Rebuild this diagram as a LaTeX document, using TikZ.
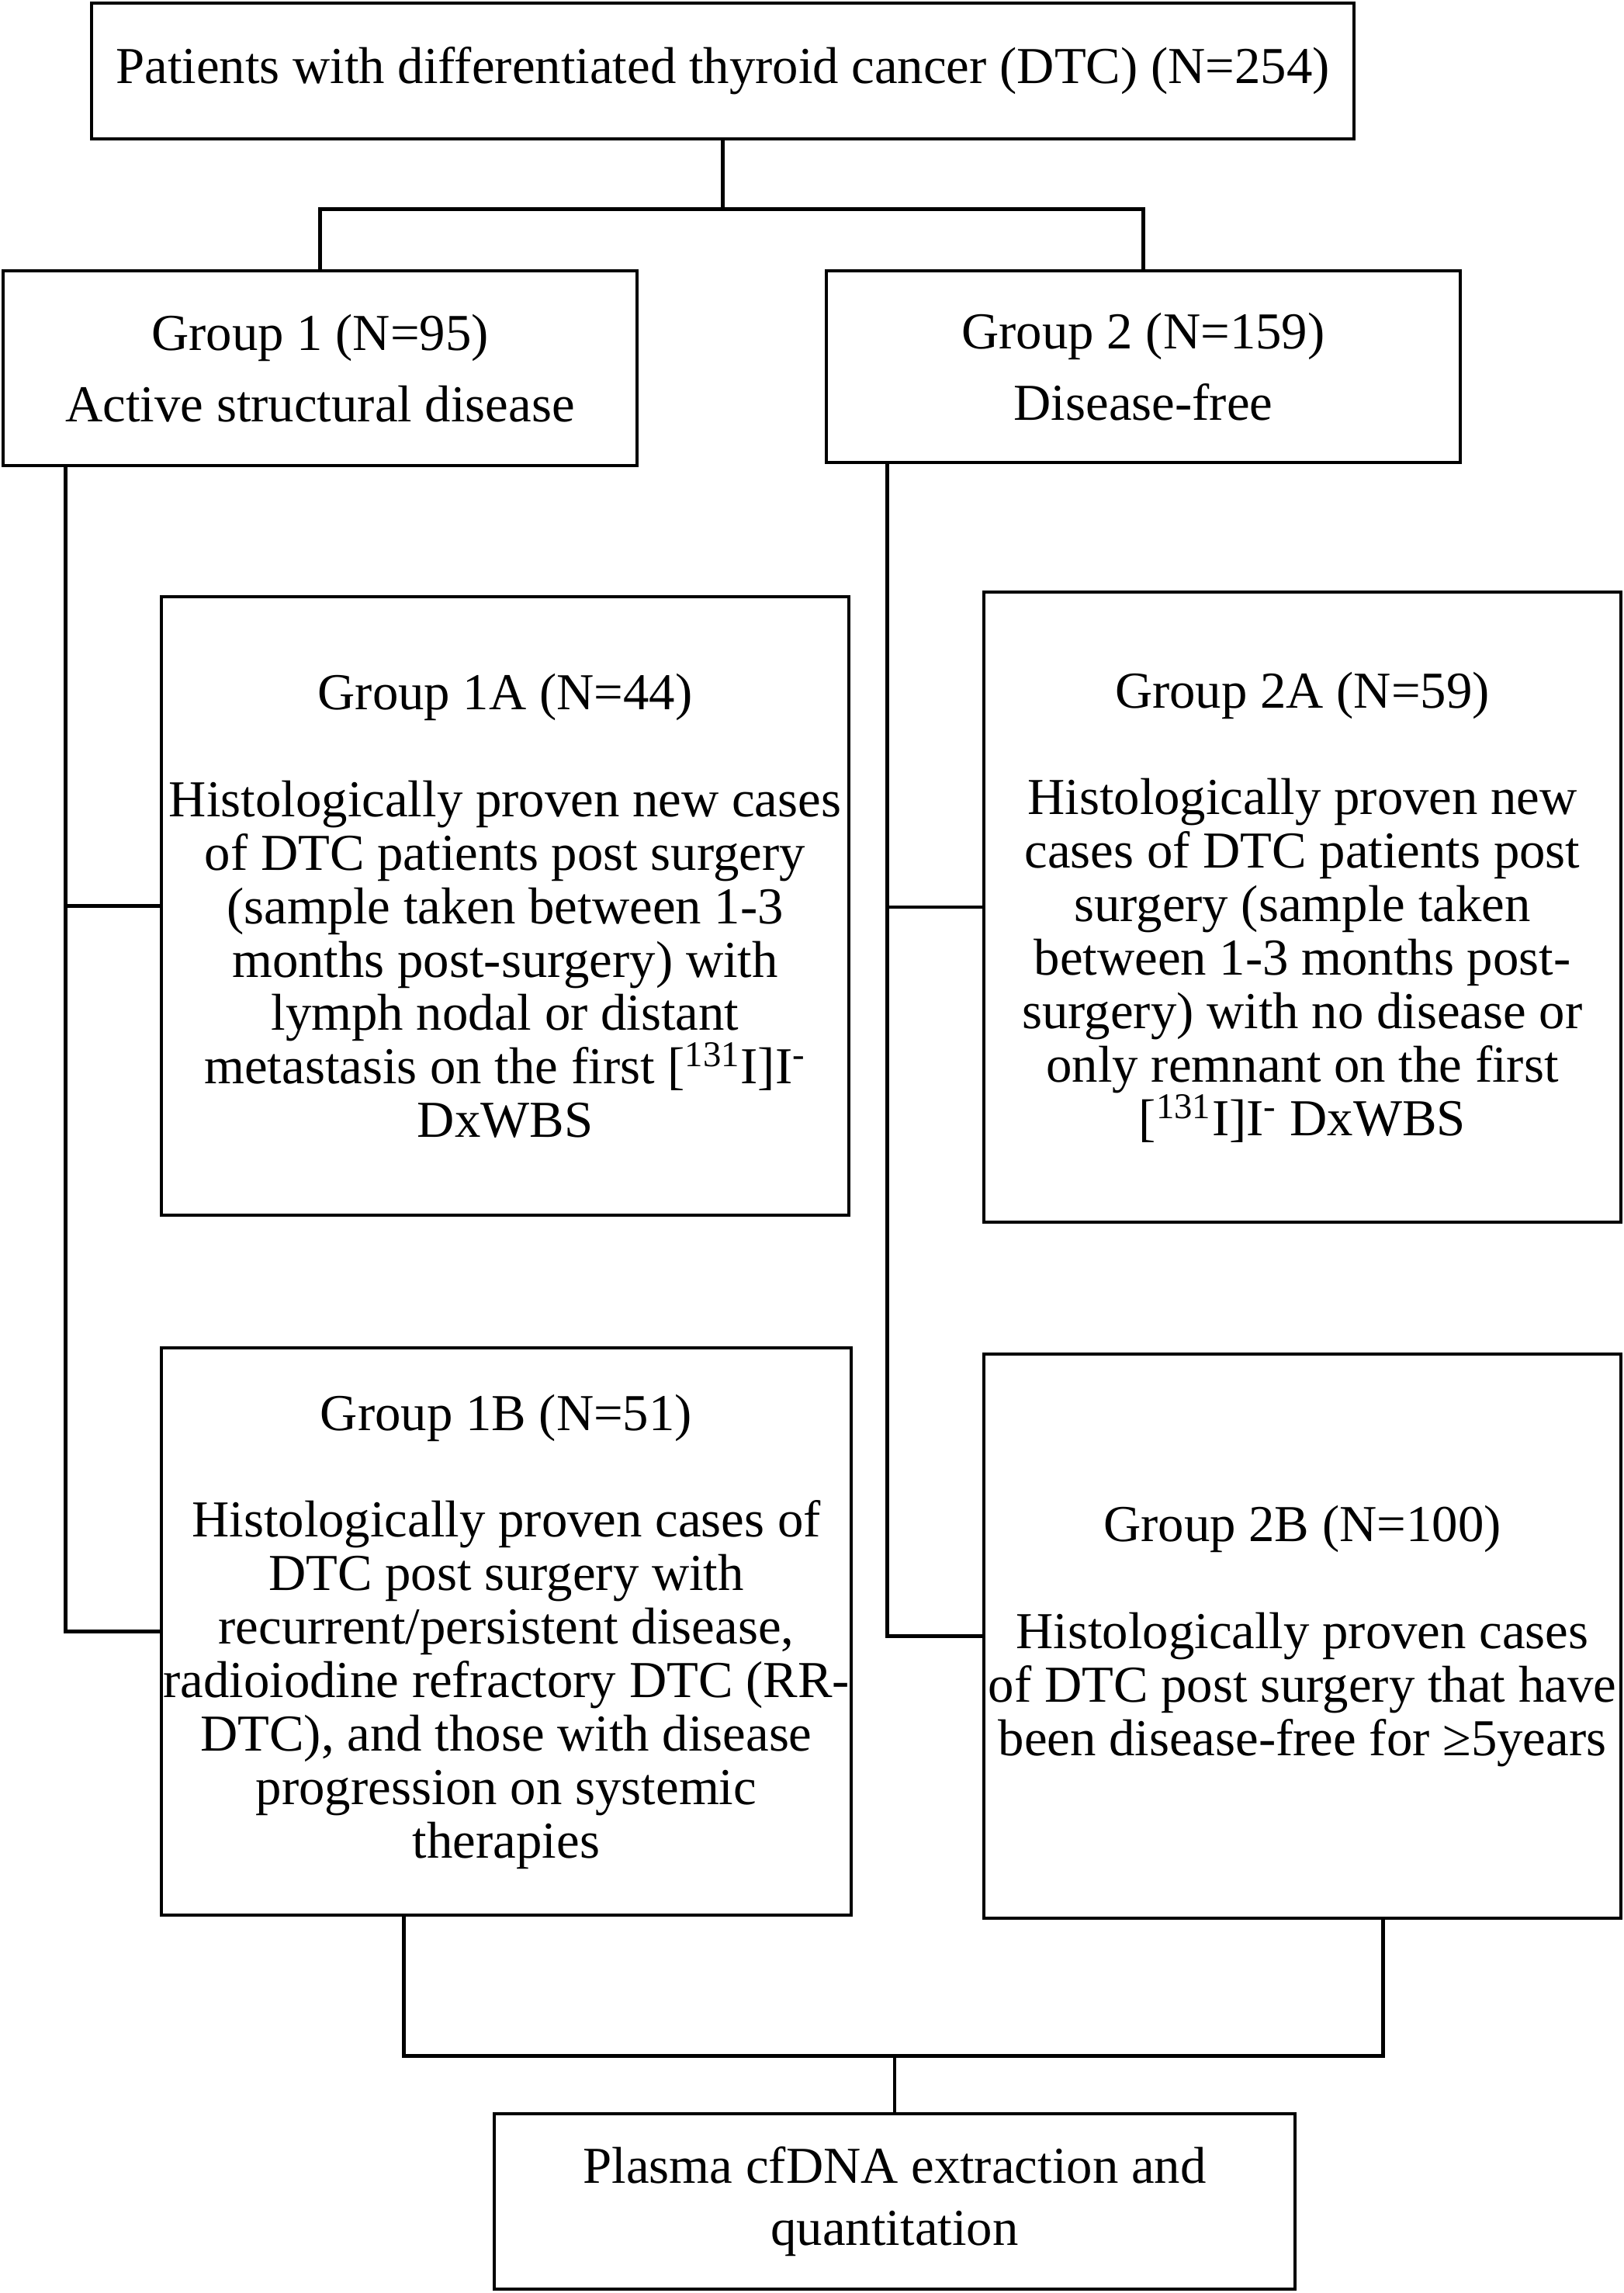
\documentclass[tikz,border=0pt]{standalone}
\usepackage{fontspec}
\setmainfont{Liberation Serif}
\usetikzlibrary{positioning}

\begin{document}
\begin{tikzpicture}[line width=1.4pt,
    box/.style={draw, align=center, inner sep=0pt,
      font=\fontsize{19}{19.6}\selectfont}]
    \useasboundingbox (0,0) rectangle (20.93,-29.55);
    % Nodes
    \node (dtc) [box, minimum width=16.27cm, minimum height=1.75cm] at (9.315,-0.915)
      {Patients with differentiated thyroid cancer (DTC) (N=254)};
    \node (grpone) [box, minimum width=8.17cm, minimum height=2.51cm] at (4.125,-4.745)
      {Group 1 (N=95)\\[6.6pt] Active structural disease};
    \node (grptwo) [box, minimum width=8.17cm, minimum height=2.47cm] at (14.735,-4.725)
      {Group 2 (N=159)\\[6.6pt] Disease-free};
    \node (onea) [box, minimum width=8.86cm, minimum height=7.97cm] at (6.51,-11.675)
      {Group 1A (N=44)\\[19.6pt]
       Histologically proven new cases\\ of DTC patients post surgery\\
       (sample taken between 1-3\\ months post-surgery) with\\
       lymph nodal or distant\\ metastasis on the first {[}\textsuperscript{131}I{]}I\textsuperscript{-}\\ DxWBS};
    \node (twoa) [box, minimum width=8.21cm, minimum height=8.12cm] at (16.785,-11.69)
      {Group 2A (N=59)\\[19.6pt]
       Histologically proven new\\ cases of DTC patients post\\
       surgery (sample taken\\ between 1-3 months post-\\
       surgery) with no disease or\\ only remnant on the first\\
       {[}\textsuperscript{131}I{]}I\textsuperscript{-} DxWBS};
    \node (oneb) [box, minimum width=8.89cm, minimum height=7.31cm] at (6.525,-21.025)
      {Group 1B (N=51)\\[19.6pt]
       Histologically proven cases of\\ DTC post surgery with\\
       recurrent/persistent disease,\\ radioiodine refractory DTC (RR-\\
       DTC), and those with disease\\ progression on systemic\\ therapies};
    \node (twob) [box, minimum width=8.21cm, minimum height=7.27cm] at (16.785,-21.085)
      {Group 2B (N=100)\\[19.6pt]
       Histologically proven cases\\ of DTC post surgery that have\\
       been disease-free for ≥5years};
    \node (cfdna) [box, minimum width=10.32cm, minimum height=2.26cm] at (11.53,-28.37)
      {Plasma cfDNA extraction and\\[3.4pt] quantitation};

    % Lines
    \draw (dtc.south) -- ++(0,-0.88) coordinate (split);
    \draw (grpone.north) |- (split) -| (grptwo.north);
    \draw ([xshift=0.83cm]grpone.south west) |- (onea.west);
    \draw ([xshift=0.83cm]grpone.south west) |- (oneb.west);
    \draw ([xshift=0.81cm]grptwo.south west) |- (twoa.west);
    \draw ([xshift=0.81cm]grptwo.south west) |- (twob.west);
    \draw ([xshift=-1.32cm]oneb.south) -- ++(0,-1.79) coordinate (merge)
      -| ([xshift=1.04cm]twob.south);
    \draw (cfdna.north) -- (cfdna.north |- merge);
\end{tikzpicture}
\end{document}
